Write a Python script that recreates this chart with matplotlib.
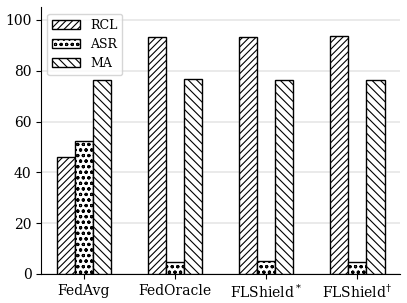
import matplotlib
matplotlib.use("Agg")
import matplotlib.pyplot as plt
import numpy as np

plt.rcParams['font.family'] = 'DejaVu Serif'
plt.rcParams['mathtext.fontset'] = 'dejavuserif'
plt.rcParams['hatch.linewidth'] = 0.8

methods = ['FedAvg', 'FedOracle', 'FLShield$^*$', 'FLShield$^{\\dagger}$']
rcl = [46.0, 93.3, 93.2, 93.8]
asr = [52.3, 4.7, 4.9, 4.5]
ma = [76.2, 76.6, 76.4, 76.4]

fig = plt.figure(figsize=(4.07, 3.03), dpi=100)
ax = fig.add_axes([0.101, 0.096, 0.882, 0.88])

x = np.arange(len(methods))
w = 0.2
ax.bar(x - w, rcl, w, color='white', edgecolor='black', hatch='/////', label='RCL', zorder=3)
ax.bar(x, asr, w, color='white', edgecolor='black', hatch='ooo', label='ASR', zorder=3)
ax.bar(x + w, ma, w, color='white', edgecolor='black', hatch='\\\\\\\\', label='MA', zorder=3)

ax.set_xticks(x)
ax.set_xticklabels(methods, fontsize=10)
ax.tick_params(axis='y', labelsize=10)
ax.set_ylim(0, 105)
ax.set_xlim(-0.47, 3.47)
ax.yaxis.grid(True, color='#e6e6e6', linewidth=1.2, zorder=0)
ax.spines['top'].set_visible(False)
ax.spines['right'].set_visible(False)
ax.legend(loc='upper left', fontsize=9, handlelength=2.2)

fig.savefig('out.png', dpi=100)
